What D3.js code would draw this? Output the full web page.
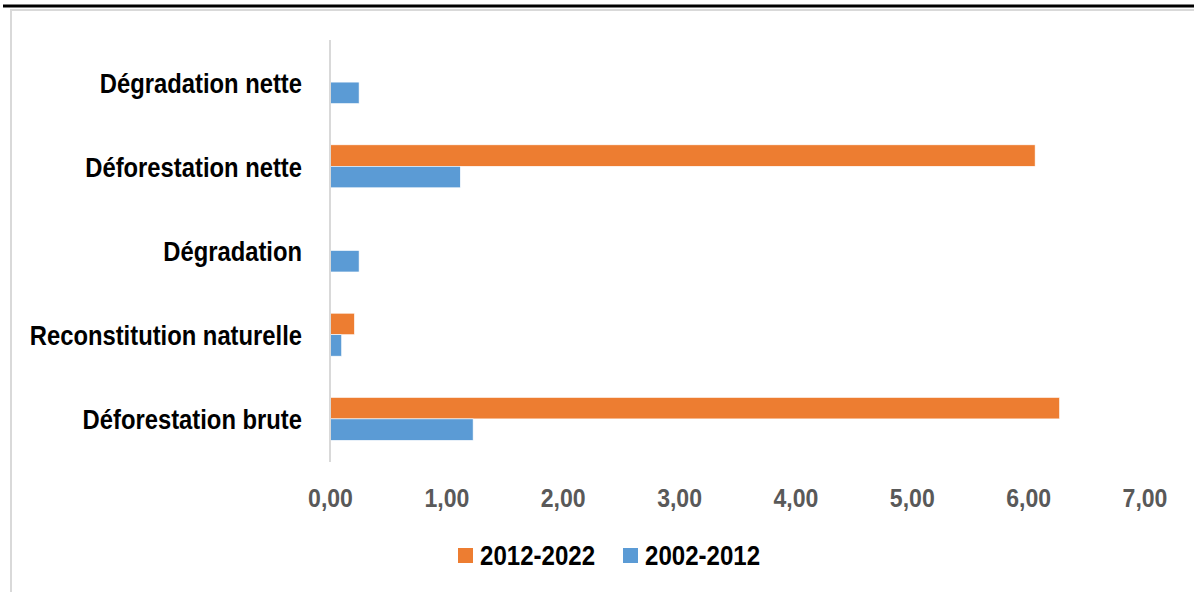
<!DOCTYPE html>
<html>
<head>
<meta charset="utf-8">
<script src="https://cdn.jsdelivr.net/npm/d3@7"></script>
<style>
  html, body { margin: 0; padding: 0; background: #fff; }
  svg { display: block; }
  .cat { font-family: "Liberation Sans Narrow", "Arial Narrow", "Liberation Sans", sans-serif; font-weight: bold; font-size: 28px; fill: #000; }
  .tick text { font-family: "Liberation Sans Narrow", "Arial Narrow", "Liberation Sans", sans-serif; font-weight: bold; font-size: 26.5px; fill: #595959; }
  .leg { font-family: "Liberation Sans Narrow", "Arial Narrow", "Liberation Sans", sans-serif; font-weight: bold; font-size: 28px; fill: #000; }
</style>
</head>
<body>
<svg id="chart" width="1194" height="592"></svg>
<script>
// Categories, top to bottom
const categories = [
  "Dégradation nette",
  "Déforestation nette",
  "Dégradation",
  "Reconstitution naturelle",
  "Déforestation brute"
];
// Series (values in the same order as categories; null = no bar)
const seriesNames = ["2012-2022", "2002-2012"];
const values2012_2022 = [null, 6.06, null, 0.21, 6.27];
const values2002_2012 = [0.25, 1.12, 0.25, 0.10, 1.23];
const seriesColors = ["#ED7D31", "#5B9BD5"];
const xTicks = [0, 1, 2, 3, 4, 5, 6, 7];

const svg = d3.select("#chart");
const W = 1194, H = 592;
const NARROW = 0.86; // condensed look for the bold labels

// page rule and chart frame
svg.append("rect").attr("x", 3).attr("y", 4.5).attr("width", W - 3).attr("height", 3).attr("fill", "#000");
svg.append("path")
  .attr("d", `M11,${H} V10 H${W}`)
  .attr("fill", "none").attr("stroke", "#d9d9d9").attr("stroke-width", 2);

const x = d3.scaleLinear().domain([0, 7]).range([330, 1144.5]);
const y = d3.scaleBand().domain(categories).range([40, 461]).paddingInner(0.49).paddingOuter(0.245);
const sub = d3.scaleBand().domain(seriesNames).range([0, y.bandwidth()]);

const rows = categories.map((c, i) => ({
  cat: c,
  vals: [values2012_2022[i], values2002_2012[i]]
}));

// bars
const g = svg.append("g");
rows.forEach(r => {
  r.vals.forEach((v, k) => {
    if (v == null) return;
    g.append("rect")
      .attr("x", x(0))
      .attr("y", y(r.cat) + sub(seriesNames[k]))
      .attr("width", x(v) - x(0))
      .attr("height", sub.bandwidth())
      .attr("fill", seriesColors[k])
      .attr("stroke", "#fff").attr("stroke-width", 0.6);
  });
});

// vertical axis line at zero
svg.append("line")
  .attr("x1", x(0)).attr("x2", x(0))
  .attr("y1", 40).attr("y2", 462)
  .attr("stroke", "#d9d9d9").attr("stroke-width", 2);

// category labels
svg.append("g").selectAll("text").data(categories).join("text")
  .attr("class", "cat")
  .attr("text-anchor", "end")
  .attr("transform", d => `translate(302,${y(d) + y.bandwidth() / 2 + 10.5}) scale(${NARROW - 0.01},1)`)
  .text(d => d);

// value axis labels
const fmt = d => d3.format(".2f")(d).replace(".", ",");
const ax = svg.append("g").attr("transform", "translate(0,462)")
  .call(d3.axisBottom(x).tickValues(xTicks).tickFormat(fmt).tickSize(0));
ax.select(".domain").remove();
ax.selectAll(".tick text")
  .attr("y", 45).attr("dy", 0)
  .attr("transform", `scale(${NARROW + 0.01},1)`);

// legend
const legend = [
  { name: seriesNames[0], color: seriesColors[0], x: 458 },
  { name: seriesNames[1], color: seriesColors[1], x: 623 }
];
const lg = svg.append("g");
legend.forEach(l => {
  lg.append("rect").attr("x", l.x).attr("y", 548).attr("width", 15).attr("height", 15).attr("fill", l.color);
  lg.append("text").attr("class", "leg")
    .attr("transform", `translate(${l.x + 22},565) scale(${NARROW},1)`)
    .text(l.name);
});
</script>
</body>
</html>
